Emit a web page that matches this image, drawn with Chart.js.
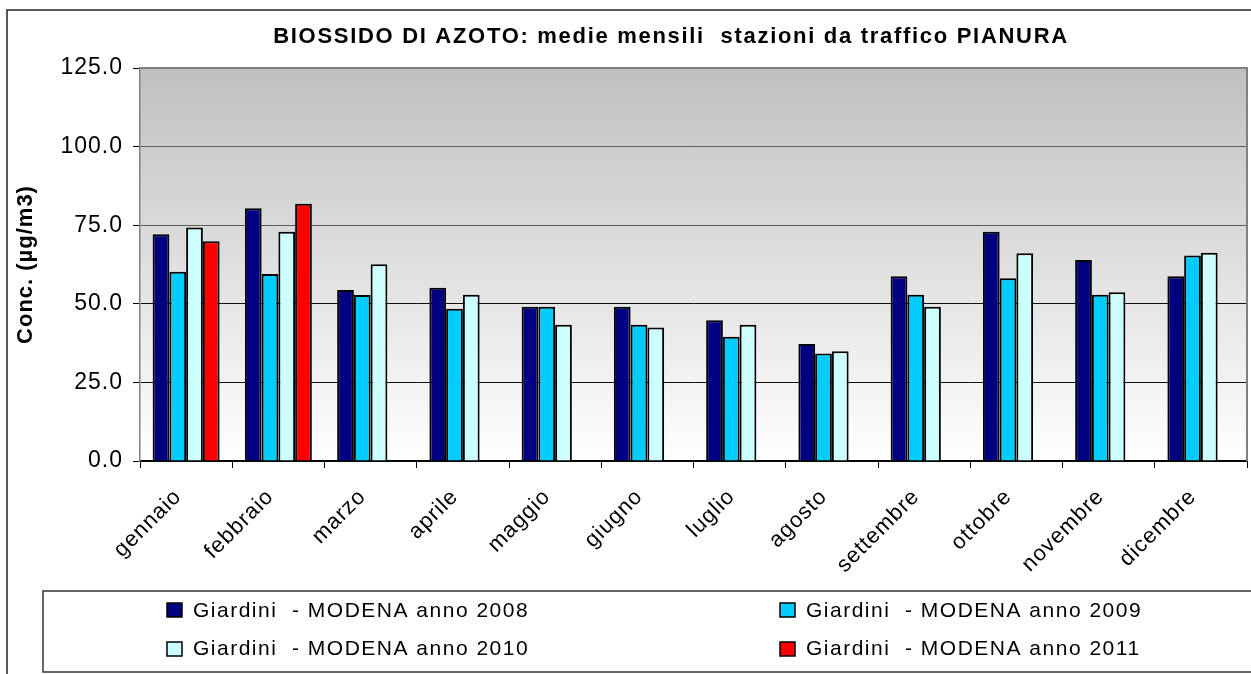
<!DOCTYPE html>
<html><head><meta charset="utf-8">
<script src="https://cdn.jsdelivr.net/npm/chart.js@4.4.0/dist/chart.umd.min.js"></script>
<style>html,body{margin:0;padding:0;background:#fff;overflow:hidden}#wrap{position:relative;width:1251px;height:674px}</style>
</head><body><div id="wrap"><canvas id="c" width="1251" height="674"></canvas></div>
<script>
const chartTitle = 'BIOSSIDO DI AZOTO: medie mensili  stazioni da traffico PIANURA';
const yAxisTitle = 'Conc. (\u00b5g/m3)';
const months = ['gennaio','febbraio','marzo','aprile','maggio','giugno','luglio','agosto','settembre','ottobre','novembre','dicembre'];
const seriesLabels = ['Giardini  - MODENA anno 2008','Giardini  - MODENA anno 2009','Giardini  - MODENA anno 2010','Giardini  - MODENA anno 2011'];
const s2008 = [72.1, 80.4, 54.4, 55.1, 49.1, 49.1, 44.8, 37.2, 58.8, 72.9, 63.9, 58.8];
const s2009 = [60.2, 59.5, 52.8, 48.4, 49.1, 43.3, 39.5, 34.2, 52.9, 58.1, 52.9, 65.4];
const s2010 = [74.3, 72.9, 62.6, 52.9, 43.3, 42.5, 43.3, 34.9, 49.1, 66.1, 53.7, 66.2];
const s2011 = [69.9, 81.8, null, null, null, null, null, null, null, null, null, null];
const seriesColors = ['#000080', '#00CCFF', '#CCFFFF', '#FF0000'];
const yMin = 0, yMax = 125, yStep = 25;

const FONT = '"Liberation Sans", Arial, sans-serif';

const spacingPlugin = {
  id: 'spacing',
  beforeUpdate(chart) { chart.ctx.letterSpacing = '1px'; },
  beforeDraw(chart) { chart.ctx.letterSpacing = '1px'; }
};

const decorPlugin = {
  id: 'decor',
  beforeDraw(chart) {
    const ctx = chart.ctx, a = chart.chartArea;
    ctx.save();
    ctx.fillStyle = '#fff';
    ctx.fillRect(0, 0, chart.width, chart.height);
    ctx.strokeStyle = '#222';
    ctx.lineWidth = 1.5;
    ctx.strokeRect(7, 10, chart.width + 20, chart.height + 20);
    const g = ctx.createLinearGradient(0, a.top, 0, a.bottom);
    g.addColorStop(0, '#c0c0c0');
    g.addColorStop(1, '#ffffff');
    ctx.fillStyle = g;
    ctx.fillRect(a.left, a.top, a.right - a.left, a.bottom - a.top);
    ctx.restore();
  },
  afterDraw(chart) {
    const ctx = chart.ctx, a = chart.chartArea;
    ctx.save();
    ctx.strokeStyle = '#808080';
    ctx.lineWidth = 2;
    ctx.beginPath();
    ctx.moveTo(a.left, a.top); ctx.lineTo(a.right, a.top); ctx.lineTo(a.right, a.bottom);
    ctx.stroke();
    // title
    ctx.letterSpacing = '1.7px';
    ctx.fillStyle = '#000';
    ctx.font = 'bold 22px ' + FONT;
    ctx.textAlign = 'center';
    ctx.textBaseline = 'alphabetic';
    ctx.fillText(chartTitle, 671, 43);
    // legend
    ctx.strokeStyle = '#333';
    ctx.lineWidth = 1.5;
    ctx.strokeRect(43, 591, chart.width, 81);
    const pos = [[167, 603, 193, 617], [780, 603, 806, 617], [167, 642, 193, 655], [780, 642, 806, 655]];
    ctx.font = '21px ' + FONT;
    ctx.letterSpacing = '1.5px';
    ctx.textAlign = 'left';
    chart.data.datasets.forEach((ds, i) => {
      const p = pos[i];
      ctx.fillStyle = ds.backgroundColor;
      ctx.fillRect(p[0], p[1], 15, 14);
      ctx.strokeStyle = '#000';
      ctx.lineWidth = 1.5;
      ctx.strokeRect(p[0], p[1], 15, 14);
      ctx.fillStyle = '#000';
      ctx.fillText(ds.label, p[2], p[3]);
    });
    ctx.restore();
  }
};

const mkDs = (label, data, color) => ({
  label, data, backgroundColor: color, borderColor: '#000', borderWidth: 2,
  categoryPercentage: 0.726, barPercentage: 1.0
});

new Chart(document.getElementById('c'), {
  type: 'bar',
  data: {
    labels: months,
    datasets: [
      mkDs(seriesLabels[0], s2008, seriesColors[0]),
      mkDs(seriesLabels[1], s2009, seriesColors[1]),
      mkDs(seriesLabels[2], s2010, seriesColors[2]),
      mkDs(seriesLabels[3], s2011, seriesColors[3])
    ]
  },
  options: {
    responsive: false,
    animation: false,
    devicePixelRatio: 1,
    layout: { padding: { left: 7, right: 4, top: 68, bottom: 0 } },
    plugins: { legend: { display: false }, title: { display: false }, tooltip: { enabled: false } },
    scales: {
      x: {
        grid: { offset: true, drawOnChartArea: false, tickLength: 7, tickColor: '#000', tickWidth: 1 },
        border: { color: '#000', width: 1.5 },
        ticks: { color: '#000', font: { family: FONT, size: 22 }, minRotation: 45, maxRotation: 45, autoSkip: false, padding: 16, labelOffset: -8 },
        afterFit(s) { s.height = 213; }
      },
      y: {
        min: yMin, max: yMax,
        grid: {
          color: (c) => (c.tick && c.tick.value >= 75 ? '#5a5a5a' : '#111'),
          lineWidth: 1, tickLength: 7, tickColor: '#000'
        },
        border: { color: '#808080', width: 1.5 },
        ticks: { stepSize: yStep, color: '#000', font: { family: FONT, size: 23 }, padding: 10,
          callback: (v) => Number(v).toFixed(1) },
        title: { display: true, text: yAxisTitle, color: '#000', font: { family: FONT, size: 22, weight: 'bold' }, padding: { top: 6, bottom: 0 } },
        afterFit(s) { s.width = 133; }
      }
    }
  },
  plugins: [spacingPlugin, decorPlugin]
});
</script></body></html>
